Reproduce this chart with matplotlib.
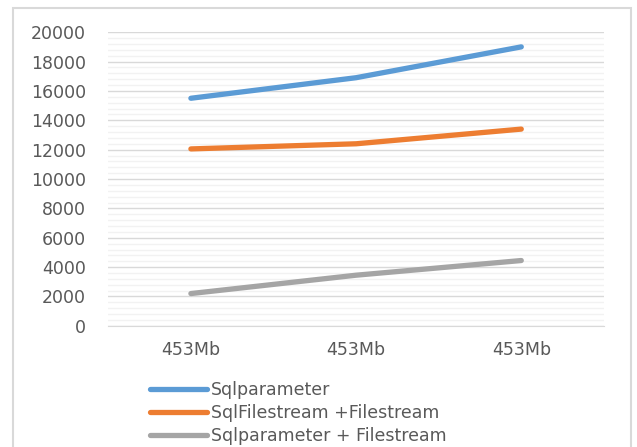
import matplotlib.pyplot as plt
from matplotlib.ticker import MultipleLocator
from matplotlib.patches import Rectangle

categories = ['453Mb', '453Mb', '453Mb']
sqlparameter = [15500, 16900, 19000]
sqlfilestream = [12050, 12400, 13400]
sqlparam_filestream = [2200, 3450, 4450]

series = [
    ('Sqlparameter', sqlparameter, '#5B9BD5'),
    ('SqlFilestream +Filestream', sqlfilestream, '#ED7D31'),
    ('Sqlparameter + Filestream', sqlparam_filestream, '#A5A5A5'),
]

plt.rcParams['font.family'] = ['DejaVu Sans']
text_color = '#595959'
fs = 12.5

fig = plt.figure(figsize=(6.37, 4.47), dpi=100)
ax = fig.add_axes([0.170, 0.271, 0.778, 0.657])

# chart frame
fig.patches.append(Rectangle((13 / 637, -0.05), 618 / 637, 1 - 8 / 447 + 0.05,
                             transform=fig.transFigure, fill=False,
                             edgecolor='#D9D9D9', linewidth=1.5))

x = range(len(categories))
for label, vals, color in series:
    ax.plot(x, vals, color=color, linewidth=3.8, solid_capstyle='round',
            label=label, zorder=3)

ax.set_xlim(-0.5, len(categories) - 0.5)
ax.set_ylim(0, 20000)
ax.yaxis.set_major_locator(MultipleLocator(2000))
ax.yaxis.set_minor_locator(MultipleLocator(400))
ax.set_xticks(list(x))
ax.set_xticklabels(categories)
ax.grid(axis='y', which='major', color='#D9D9D9', linewidth=1)
ax.grid(axis='y', which='minor', color='#F2F2F2', linewidth=1)
ax.set_axisbelow(True)
for s in ['top', 'right', 'left']:
    ax.spines[s].set_visible(False)
ax.spines['bottom'].set_color('#D9D9D9')
ax.tick_params(axis='both', which='both', length=0, labelsize=fs,
               labelcolor=text_color)
ax.tick_params(axis='y', pad=16)
ax.tick_params(axis='x', pad=11)

fig.legend(loc='upper left', bbox_to_anchor=(0.235, 0.148), frameon=False,
           handlelength=3.3, handletextpad=0.25, labelspacing=0.3,
           fontsize=fs, labelcolor=text_color, borderpad=0, borderaxespad=0)

fig.savefig('out.png', dpi=100)
